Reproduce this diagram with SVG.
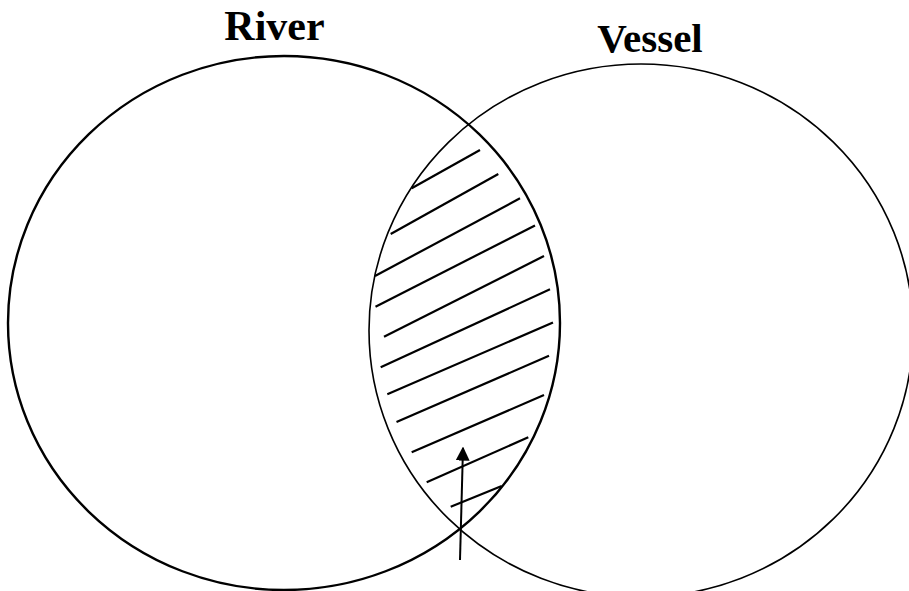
<svg xmlns="http://www.w3.org/2000/svg" width="909" height="591" viewBox="0 0 909 591">
<style>
.lbl{font-family:"Liberation Serif","Times New Roman",serif;font-weight:bold;fill:#000;text-anchor:middle}
.hatch line{stroke:#000;stroke-width:2.2;stroke-linecap:butt}
</style>
<defs>
<marker id="ah" viewBox="0 0 10 10" refX="9" refY="5" markerWidth="7" markerHeight="7" orient="auto" markerUnits="strokeWidth">
<path d="M0,0 L10,5 L0,10 z" fill="#000"/>
</marker>
</defs>
<rect width="909" height="591" fill="#fff"/>
<g id="river">
<ellipse cx="284" cy="323" rx="276" ry="267" fill="none" stroke="#000" stroke-width="2.4"/>
<text class="lbl" x="274.5" y="40" font-size="42">River</text>
</g>
<g id="vessel">
<ellipse cx="641" cy="330.5" rx="272" ry="266.5" fill="none" stroke="#000" stroke-width="1.6"/>
<text class="lbl" x="650" y="52" font-size="41">Vessel</text>
</g>
<g id="intersection" class="hatch">
<line x1="411.7" y1="188.3" x2="480" y2="150"/>
<line x1="390.7" y1="234" x2="498.3" y2="174"/>
<line x1="375" y1="276" x2="520" y2="198.3"/>
<line x1="375.5" y1="306.7" x2="535" y2="225.5"/>
<line x1="384" y1="336.7" x2="544" y2="256"/>
<line x1="380.7" y1="367.3" x2="550" y2="289.3"/>
<line x1="387.3" y1="394.3" x2="553" y2="322.5"/>
<line x1="396.5" y1="422" x2="549" y2="355.8"/>
<line x1="411.7" y1="452.3" x2="544" y2="395"/>
<line x1="426.7" y1="482.3" x2="528.3" y2="437.3"/>
<line x1="450.7" y1="506.7" x2="501.7" y2="486"/>
</g>
<g id="connectors">
<line x1="460" y1="560" x2="463" y2="448" stroke="#000" stroke-width="2" marker-end="url(#ah)"/>
</g>
</svg>
